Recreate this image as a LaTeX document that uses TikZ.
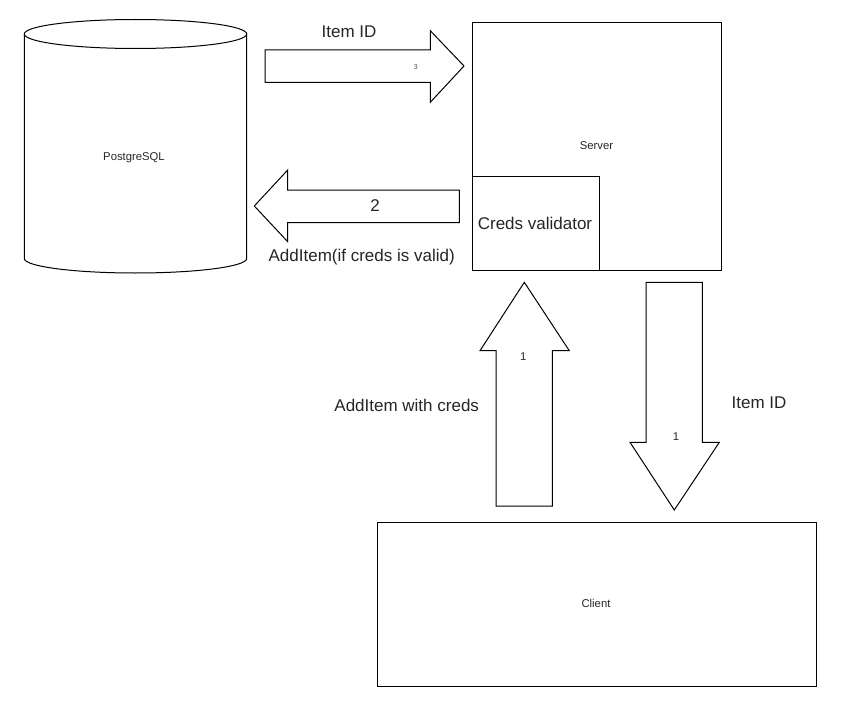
\documentclass[tikz,border=0pt]{standalone}
\usepackage{fontspec}
\setmainfont{Liberation Sans}
\begin{document}
\begin{tikzpicture}[x=1pt,y=-1pt,
  outline/.style={draw=black,line width=1pt,fill=white,line join=miter},
  bigtxt/.style={inner sep=0pt,font=\fontsize{17}{20}\selectfont,text=black!85},
  smalltxt/.style={inner sep=0pt,font=\fontsize{11.3}{13}\selectfont,text=black!85},
  tinytxt/.style={inner sep=0pt,font=\fontsize{7}{8}\selectfont,text=black!70}]
\useasboundingbox (0,0) rectangle (844,709);
\fill[white] (0,0) rectangle (844,709);

% PostgreSQL cylinder
\draw[outline] (24.3,34) -- (24.3,258.5) arc[start angle=180,end angle=360,x radius=111.2,y radius=-14.5] -- (246.7,34);
\draw[outline] (135.5,34) ellipse[x radius=111.2,y radius=14.5];
\node[smalltxt] (pg) at (134,158) {PostgreSQL};

% Server and creds validator
\node[outline,minimum width=249.3pt,minimum height=248.3pt,inner sep=0pt,anchor=north west] (server) at (471.7,21.7) {};
\node[smalltxt] (serverlbl) at (596.5,146) {Server};
\node[outline,minimum width=127.6pt,minimum height=94pt,inner sep=0pt,anchor=north west] (creds) at (471.7,176) {};
\node[bigtxt] (credslbl) at (535,223.3) {Creds validator};

% Client
\node[outline,minimum width=438.4pt,minimum height=164.3pt,inner sep=0pt,anchor=north west] (client) at (377.3,521.7) {};
\node[smalltxt] (clientlbl) at (596,603) {Client};

% Right arrow (3)
\draw[outline] (265,50) -- (430.3,50) -- (430.3,30.7) -- (464,66) -- (430.3,102.3) -- (430.3,82.3) -- (265,82.3) -- cycle;
\node[tinytxt] (n3) at (415.7,66.7) {3};
\node[bigtxt] (itemid1) at (349,31.7) {Item ID};

% Left arrow (2)
\draw[outline] (459.3,190) -- (287.7,190) -- (287.7,170) -- (254.3,206) -- (287.7,241.7) -- (287.7,222.7) -- (459.3,222.7) -- cycle;
\node[bigtxt] (n2) at (375,206) {2};
\node[bigtxt] (addvalid) at (361.7,256.7) {AddItem(if creds is valid)};

% Up arrow (1)
\draw[outline] (496,506) -- (496,350.7) -- (480,350.7) -- (524.3,282.3) -- (569.3,350.7) -- (552.3,350.7) -- (552.3,506) -- cycle;
\node[smalltxt] (n1a) at (523.3,356.7) {1};
\node[bigtxt] (addcreds) at (406.7,405) {AddItem with creds};

% Down arrow (1)
\draw[outline] (646,282.3) -- (702.3,282.3) -- (702.3,442.3) -- (719.3,442.3) -- (674.3,510) -- (630,442.3) -- (646,442.3) -- cycle;
\node[smalltxt] (n1b) at (676,436.7) {1};
\node[bigtxt] (itemid2) at (759,403) {Item ID};
\end{tikzpicture}
\end{document}
